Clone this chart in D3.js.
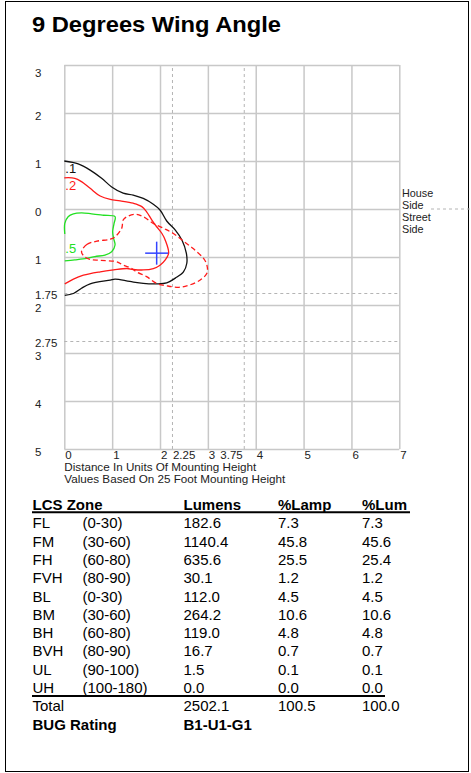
<!DOCTYPE html>
<html><head><meta charset="utf-8">
<script src="https://cdn.jsdelivr.net/npm/d3@7"></script>
<style>
body{margin:0;background:#fff}
svg{display:block}
text{font-family:"Liberation Sans",Arial,sans-serif}
</style>
</head><body>
<svg id="c" width="471" height="773"></svg>
<script>
// ---------- data ----------
const title = "9 Degrees Wing Angle";
const xGrid = [0,1,2,3,4,5,6,7];
const xDashed = [2.25,3.75];
const yGrid = [3,2,1,0,-1,-2,-3,-4,-5];
const yDashed = [-1.75,-2.75];
const xTickVals = [0,1,2,2.25,3,3.75,4,5,6,7];
const xTickText = ["0","1","2","2.25","3","3.75","4","5","6","7"];
const yTickVals = [3,2,1,0,-1,-1.75,-2,-2.75,-3,-4,-5];
const yTickText = ["3","2","1","0","1","1.75","2","2.75","3","4","5"];
const axisTitle1 = "Distance In Units Of Mounting Height";
const axisTitle2 = "Values Based On 25 Foot Mounting Height";
const sideLabels = ["House","Side","Street","Side"];

// iso-footcandle contours (x, y in mounting heights)
const iso01 = [[0,1.0],[0.29,0.94],[0.54,0.81],[0.78,0.64],[0.99,0.46],[1.23,0.33],[1.44,0.29],[1.65,0.22],[1.86,0.10],[2.0,-0.02],[2.14,-0.25],[2.32,-0.44],[2.46,-0.65],[2.55,-0.92],[2.56,-1.13],[2.49,-1.31],[2.32,-1.44],[2.14,-1.54],[1.93,-1.56],[1.65,-1.55],[1.37,-1.51],[1.06,-1.46],[0.96,-1.48],[0.54,-1.56],[0.36,-1.65],[0.19,-1.76],[0.01,-1.8]];
const iso02 = [[0,0.65],[0.22,0.64],[0.36,0.57],[0.54,0.43],[0.75,0.27],[0.96,0.20],[1.17,0.17],[1.44,0.12],[1.62,0.05],[1.72,-0.06],[1.83,-0.23],[1.93,-0.37],[2.04,-0.51],[2.11,-0.65],[2.18,-0.92],[2.11,-1.06],[2.0,-1.17],[1.86,-1.24],[1.65,-1.27],[1.44,-1.26],[1.31,-1.24],[1.03,-1.27],[0.75,-1.31],[0.40,-1.38],[0.19,-1.46],[0.01,-1.56]];
const iso05 = [[0.01,-0.52],[0.01,-0.30],[0.08,-0.16],[0.19,-0.10],[0.36,-0.08],[0.57,-0.10],[0.82,-0.13],[1.06,-0.16],[1.04,-0.30],[1.01,-0.47],[1.03,-0.61],[1.06,-0.75],[0.99,-0.89],[0.85,-0.96],[0.64,-0.99],[0.47,-1.03],[0.22,-1.06],[0.01,-1.08]];
const iso10 = [[0.36,-0.89],[0.47,-0.74],[0.68,-0.67],[0.96,-0.63],[1.06,-0.58],[1.20,-0.40],[1.23,-0.23],[1.31,-0.16],[1.48,-0.11],[1.65,-0.16],[1.86,-0.30],[2.07,-0.40],[2.28,-0.51],[2.49,-0.67],[2.70,-0.83],[2.91,-1.03],[2.98,-1.17],[2.98,-1.34],[2.84,-1.48],[2.63,-1.58],[2.42,-1.63],[2.14,-1.60],[1.93,-1.55],[1.72,-1.41],[1.51,-1.31],[1.41,-1.24],[1.23,-1.17],[1.10,-1.10],[0.75,-1.07],[0.54,-1.05],[0.41,-0.98]];
const isoLabels = [".1",".2",".5"];
const isoLabelPos = [[0,0.83],[0,0.48],[0,-0.83]];
const maxPoint = [1.93,-0.92];

// LCS table
const lcsHeader = ["LCS Zone","Lumens","%Lamp","%Lum"];
const zones = ["FL","FM","FH","FVH","BL","BM","BH","BVH","UL","UH"];
const ranges = ["(0-30)","(30-60)","(60-80)","(80-90)","(0-30)","(30-60)","(60-80)","(80-90)","(90-100)","(100-180)"];
const lumens = [182.6,1140.4,635.6,30.1,112.0,264.2,119.0,16.7,1.5,0.0];
const pctLamp = [7.3,45.8,25.5,1.2,4.5,10.6,4.8,0.7,0.1,0.0];
const pctLum = [7.3,45.6,25.4,1.2,4.5,10.6,4.8,0.7,0.1,0.0];
const totalRow = ["Total",2502.1,100.5,100.0];
const bugLabel = "BUG Rating";
const bugValue = "B1-U1-G1";

// ---------- drawing ----------
const svg = d3.select("#c");
svg.append("rect").attr("x",5.5).attr("y",1.5).attr("width",463).attr("height",770)
  .attr("fill","none").attr("stroke","#000").attr("stroke-width",1);

svg.append("text").attr("x",32).attr("y",32).attr("font-size",22).attr("font-weight","bold")
  .attr("textLength",249).attr("lengthAdjust","spacingAndGlyphs").text(title);

const x = d3.scaleLinear().domain([0,7]).range([64.3,399.3]);
const y = d3.scaleLinear().domain([3,-5]).range([65,449]);

const g = svg.append("g");
// solid grid
g.append("g").attr("transform",`translate(0,${y(-5)})`)
  .call(d3.axisBottom(x).tickValues(xGrid).tickSize(-(y(-5)-y(3))).tickFormat(""))
  .call(a=>{a.select(".domain").remove(); a.selectAll("line").attr("stroke","#c8c8c8").attr("stroke-width",1.5);});
g.append("g").attr("transform",`translate(${x(0)},0)`)
  .call(d3.axisLeft(y).tickValues(yGrid).tickSize(-(x(7)-x(0))).tickFormat(""))
  .call(a=>{a.select(".domain").remove(); a.selectAll("line").attr("stroke","#c8c8c8").attr("stroke-width",1.5);});
// dashed grid
g.append("g").attr("transform",`translate(0,${y(-5)})`)
  .call(d3.axisBottom(x).tickValues(xDashed).tickSize(-(y(-5)-y(3))).tickFormat(""))
  .call(a=>{a.select(".domain").remove(); a.selectAll("line").attr("stroke","#b4b4b4").attr("stroke-width",1).attr("stroke-dasharray","3,3");});
g.append("g").attr("transform",`translate(${x(0)},0)`)
  .call(d3.axisLeft(y).tickValues(yDashed).tickSize(-(x(7)-x(0))).tickFormat(""))
  .call(a=>{a.select(".domain").remove(); a.selectAll("line").attr("stroke","#b4b4b4").attr("stroke-width",1).attr("stroke-dasharray","3,3");});
// house/street divider extension
g.append("line").attr("x1",431).attr("x2",471).attr("y1",y(0)).attr("y2",y(0))
  .attr("stroke","#b4b4b4").attr("stroke-dasharray","3,3");

// tick labels
g.selectAll(".xl").data(xTickVals).join("text")
  .attr("x",(d,i)=> xTickText[i]==="3.75" ? x(d)-1 : x(d)+1)
  .attr("text-anchor",(d,i)=> xTickText[i]==="3.75" ? "end" : "start")
  .attr("y",y(-5)+9.5).attr("font-size",11.5).attr("fill","#222")
  .text((d,i)=>xTickText[i]);
g.selectAll(".yl").data(yTickVals).join("text")
  .attr("x",35).attr("y",d=> d===3 ? y(d)+12 : (yDashed.includes(d) ? y(d)+5.5 : y(d)+7))
  .attr("font-size",11.5).attr("fill","#222")
  .text((d,i)=>yTickText[i]);

g.append("text").attr("x",x(0)).attr("y",470.5).attr("font-size",10.5).attr("fill","#222")
  .attr("textLength",192).attr("lengthAdjust","spacingAndGlyphs").text(axisTitle1);
g.append("text").attr("x",x(0)).attr("y",482.5).attr("font-size",10.5).attr("fill","#222")
  .attr("textLength",221).attr("lengthAdjust","spacingAndGlyphs").text(axisTitle2);

const sideY = [196.5,208.6,220.7,232.8];
g.selectAll(".sd").data(sideLabels).join("text")
  .attr("x",402).attr("y",(d,i)=>sideY[i]).attr("font-size",10.8).attr("fill","#222").text(d=>d);

// contours
const line = d3.line().x(d=>x(d[0])).y(d=>y(d[1])).curve(d3.curveCatmullRom.alpha(0.5));
const lineC = d3.line().x(d=>x(d[0])).y(d=>y(d[1])).curve(d3.curveCatmullRomClosed.alpha(0.5));
g.append("path").attr("d",line(iso01)).attr("fill","none").attr("stroke","#111").attr("stroke-width",1.3);
g.append("path").attr("d",line(iso02)).attr("fill","none").attr("stroke","#ff1a1a").attr("stroke-width",1.3);
g.append("path").attr("d",line(iso05)).attr("fill","none").attr("stroke","#22e022").attr("stroke-width",1.3);
g.append("path").attr("d",lineC(iso10)).attr("fill","none").attr("stroke","#ff1a1a").attr("stroke-width",1.3).attr("stroke-dasharray","5,3");

const isoColors = ["#111","#ff1a1a","#22e022"];
g.selectAll(".il").data(isoLabels).join("text")
  .attr("x",(d,i)=>x(isoLabelPos[i][0])+1).attr("y",(d,i)=>y(isoLabelPos[i][1])+4)
  .attr("font-size",13).attr("fill",(d,i)=>isoColors[i]).text(d=>d);

// max point cross
const cx = x(maxPoint[0]), cy = y(maxPoint[1]);
g.append("line").attr("x1",cx-11.5).attr("x2",cx+11.5).attr("y1",cy).attr("y2",cy).attr("stroke","#3344ff").attr("stroke-width",1.5);
g.append("line").attr("x1",cx).attr("x2",cx).attr("y1",cy-11.5).attr("y2",cy+11.5).attr("stroke","#3344ff").attr("stroke-width",1.5);

// ---------- table ----------
const t = svg.append("g");
const colX = [32.5,82.5,183.5,278,362];
const headerY = 509.5, row0 = 528.3, rowH = 18.3;
const fs = 15;
t.selectAll(".h").data(lcsHeader).join("text")
  .attr("x",(d,i)=> i===0 ? colX[0] : colX[i+1]).attr("y",headerY)
  .attr("font-size",fs).attr("font-weight","bold").text(d=>d);
t.append("line").attr("x1",32).attr("x2",410).attr("y1",512.3).attr("y2",512.3).attr("stroke","#000").attr("stroke-width",2);

zones.forEach((z,i)=>{
  const yy = row0 + rowH*i;
  const vals = [z, ranges[i], lumens[i].toFixed(1), pctLamp[i].toFixed(1), pctLum[i].toFixed(1)];
  vals.forEach((v,j)=>{
    t.append("text").attr("x",colX[j]).attr("y",yy).attr("font-size",fs).text(v);
  });
});
const lastY = row0 + rowH*(zones.length-1);
t.append("line").attr("x1",32).attr("x2",385).attr("y1",lastY+3).attr("y2",lastY+3).attr("stroke","#000").attr("stroke-width",2.2);
const totY = row0 + rowH*zones.length;
t.append("text").attr("x",colX[0]).attr("y",totY).attr("font-size",fs).text(totalRow[0]);
[totalRow[1],totalRow[2],totalRow[3]].forEach((v,j)=>{
  t.append("text").attr("x",colX[j+2]).attr("y",totY).attr("font-size",fs).text(v.toFixed(1));
});
const bugY = totY + rowH;
t.append("text").attr("x",colX[0]).attr("y",bugY).attr("font-size",fs).attr("font-weight","bold").text(bugLabel);
t.append("text").attr("x",colX[2]).attr("y",bugY).attr("font-size",fs).attr("font-weight","bold").text(bugValue);
</script>
</body></html>
